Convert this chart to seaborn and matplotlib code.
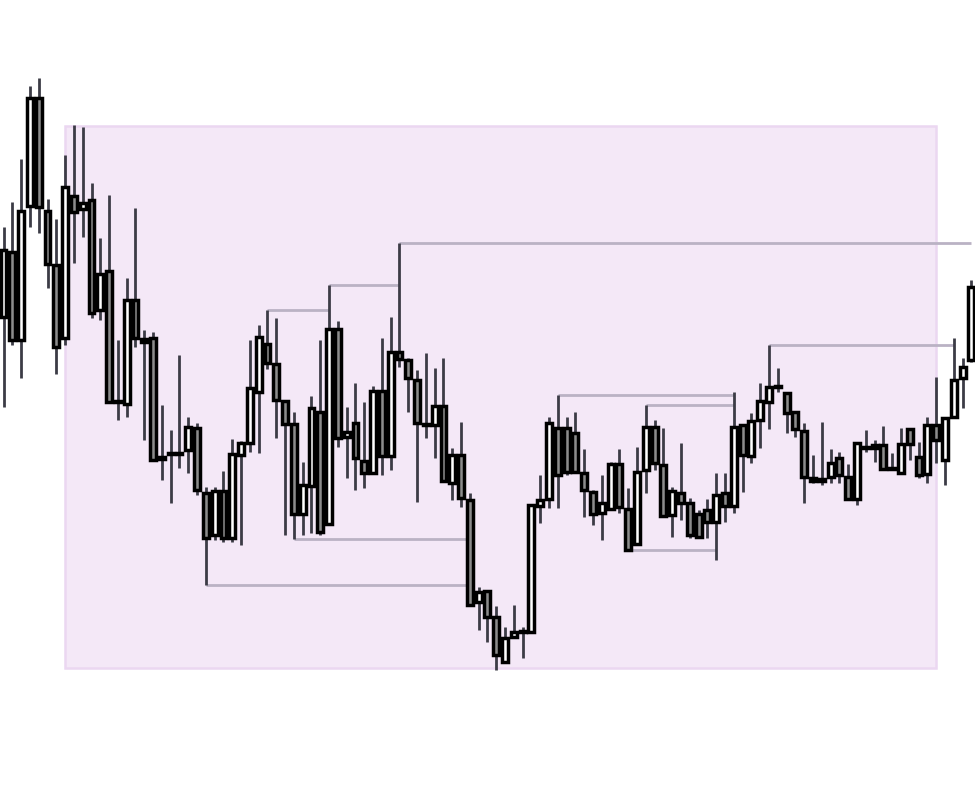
import numpy as np
import pandas as pd
import matplotlib
matplotlib.use("Agg")
import matplotlib.pyplot as plt
from matplotlib.patches import Rectangle
import seaborn as sns

# OHLC values (arbitrary price units), one entry per candle
opens = [383.3, 448.3, 360, 494, 602.3, 489.3, 435, 361.7, 504, 490.7,
         500, 390, 429.3, 299, 295.7, 400, 361, 361.7, 243, 247.5,
         247, 250, 271.7, 207.3, 165, 209.3, 161.7, 245, 257.3, 308.3,
         356, 336, 299.3, 276, 186, 214, 288.3, 176, 370.7, 262.7,
         277.3, 239.3, 227.3, 309.3, 244, 348.3, 340, 320, 276.5, 275,
         294, 216.7, 245, 200, 98.3, 109, 83.3, 38.3, 63.3, 69,
         68.3, 194, 200.7, 271.7, 271.7, 267.3, 226.7, 208.3, 186.7, 190.7,
         236, 190.7, 156, 230, 273.3, 235, 185, 207.3, 196.7, 185.7,
         190, 178.3, 207.3, 194, 275, 244, 280, 298.3, 314, 307.3,
         288.3, 269.3, 221.7, 221.5, 223.3, 241.7, 222.7, 200.7, 253, 255,
         255, 232.5, 227.3, 270.7, 242.7, 226, 275, 240, 283.3, 321.7,
         340]
highs = [473.3, 498.3, 540.7, 614, 621.7, 500.7, 480.7, 545, 575, 572.7,
         517.3, 461.7, 505, 360, 421.7, 491.7, 370, 368.3, 295, 270,
         345, 283.3, 276.7, 213.3, 213, 229, 260.7, 259, 360, 375,
         390, 381.7, 299.3, 288, 238.3, 304, 360, 415, 379.3, 293.3,
         317.3, 298.3, 314, 361.7, 382.7, 456.7, 342, 330, 346.7, 331.7,
         341.7, 251.7, 278.3, 207.3, 113.3, 110, 94, 73.3, 95, 73.3,
         195, 225, 282.7, 305, 282.7, 288.3, 250.7, 210, 225, 238,
         250.7, 211.7, 253.3, 295, 280, 271.7, 213.3, 256.7, 201.7, 190,
         200.7, 226.7, 226.7, 308.3, 276, 286.7, 316.7, 355, 331.7, 308,
         289, 277.3, 245, 278.3, 250.7, 248.3, 236, 257, 270, 260,
         274, 246.7, 271.7, 271, 258.3, 283.3, 322.7, 283, 361.7, 341.7,
         420]
lows = [293.3, 355, 322, 473.3, 466.7, 411.7, 326, 355, 436.7, 463.3,
        381.7, 380, 298, 280, 283.3, 353.3, 260, 240, 220, 196.7,
        231.7, 226.7, 205, 115, 160, 158.3, 158.3, 155, 248.3, 246.7,
        330.7, 261.7, 165, 161, 165, 166.7, 165, 176, 253.3, 221.7,
        210, 211.7, 226, 225, 230, 333.3, 288.3, 198.3, 261.7, 241.7,
        219, 200, 193.3, 94, 70, 58.3, 30, 38, 63, 41.7,
        68, 176.7, 191.7, 191.7, 225, 227, 183.3, 175, 160, 190,
        186.7, 150, 155, 206.7, 230, 183, 163.3, 180, 161.7, 163,
        161.7, 140, 178.3, 186.7, 208.3, 236.7, 251.7, 270.7, 308.3, 266.7,
        263.3, 196.7, 216.7, 215, 216.7, 216.7, 200, 195, 248.3, 238.3,
        230, 230, 227, 240, 221.7, 216.7, 236.7, 215, 283, 291.7,
        338]
closes = [450, 360, 489.3, 602.3, 492.7, 436, 353.3, 512.7, 488.3, 497.3,
          387.3, 426, 298.3, 298, 400, 361.7, 358, 240, 241, 246,
          246, 273.3, 210, 161.7, 209.3, 161.7, 245.7, 256.7, 312.3, 363.3,
          336.7, 300, 276, 186, 215, 292.3, 168.3, 370.7, 261.7, 268.3,
          241.7, 227.3, 309.3, 244, 348.3, 340.7, 321.7, 276.7, 275.5, 294,
          219.3, 245, 201.7, 95, 108.3, 82.7, 45, 61.7, 68.3, 68,
          195, 200, 277.3, 225, 228.3, 228.3, 210, 186, 196.7, 236,
          193.3, 150, 228.3, 273.3, 237.3, 184, 209, 197.3, 165, 163.3,
          178.3, 205, 194, 273.3, 245, 279.3, 299.3, 312.7, 313, 287.3,
          270.7, 223.3, 219, 219, 237.3, 225, 200.7, 256.7, 252, 251.7,
          230.7, 231, 256, 256, 225, 275, 260, 282.3, 320, 333.3,
          413]

# swing levels: (origin candle, candle where the line ends, which extreme)
level_start = [45, 37, 30, 87, 63, 73, 33, 23, 71]
level_end = [110, 45, 37, 108, 83, 83, 53, 53, 81]
level_kind = ["high", "high", "high", "high", "high", "high", "low", "low", "low"]

# highlighted zone: candle range and price range
zone_candles = [7, 106]
zone_prices = [32, 574]

df = pd.DataFrame({"open": opens, "high": highs, "low": lows, "close": closes})
df["idx"] = np.arange(len(df))
df["up"] = df["close"] >= df["open"]
df["bottom"] = df[["open", "close"]].min(axis=1)
df["height"] = (df["close"] - df["open"]).abs()

sns.set_theme(style="white")
fig = plt.figure(figsize=(9.75, 7.95), dpi=100)
ax = fig.add_axes([0, 0, 1, 1])
ax.set_facecolor("white")

# zone
ax.add_patch(Rectangle((zone_candles[0], zone_prices[0]),
                       zone_candles[1] - zone_candles[0],
                       zone_prices[1] - zone_prices[0],
                       facecolor="#f4e8f7", edgecolor="#ebd7f1",
                       linewidth=1.8, zorder=0))

# liquidity lines
for s, e, k in zip(level_start, level_end, level_kind):
    lvl = highs[s] if k == "high" else lows[s]
    ax.hlines(lvl, s, e, color="#bab2c4", linewidth=2.0, zorder=1)

# wicks
ax.vlines(df["idx"], df["low"], df["high"], color="#3c3c46",
          linewidth=2.0, zorder=2)

# bodies
colors = np.where(df["up"], "#ffffff", "#8c8c8c")
ax.bar(df["idx"], df["height"].clip(lower=0.8), bottom=df["bottom"],
       width=0.68, color=colors, edgecolor="black", linewidth=2.5, zorder=3)

ax.set_xlim(-0.398, 110.4)
ax.set_ylim(-95, 700)
ax.axis("off")

fig.savefig("out.png", dpi=100)
